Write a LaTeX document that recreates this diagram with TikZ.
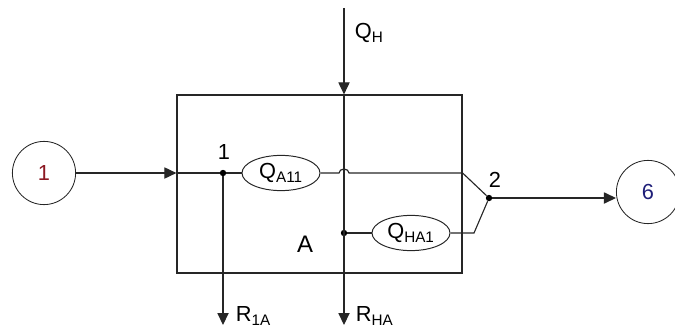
\documentclass[tikz,border=0pt]{standalone}
\usepackage{fontspec}
\setmainfont{Liberation Sans}
\usepackage{xcolor}
\usetikzlibrary{shapes.geometric,arrows.meta,positioning,calc}
\definecolor{srcred}{RGB}{140,25,35}
\definecolor{sinkblue}{RGB}{30,30,120}

\begin{document}
\begin{tikzpicture}[
  x=0.025cm, y=-0.025cm,
  every node/.style={font=\fontsize{15.5}{18}\selectfont},
  stream/.style={circle, draw=black!85, line width=0.6pt, minimum size=1.58cm,
                 inner sep=0pt},
  flow/.style={ellipse, draw=black!85, line width=0.7pt, minimum width=1.95cm,
               minimum height=0.88cm, inner sep=0pt},
  unit/.style={rectangle, draw=black!85, line width=0.8pt, minimum width=7.125cm,
               minimum height=4.45cm, inner sep=0pt},
  dot/.style={circle, fill=black, inner sep=0pt, minimum size=0.16cm},
  ln/.style={line width=0.8pt, draw=black!85},
  ar/.style={ln, -{Triangle[length=3mm, width=2.8mm]}}
]
\useasboundingbox (0,0) rectangle (675,328);
\node[unit] (blk) at (319.5,184) {};
\node[stream, text=srcred] (in1) at (44,173) {1};
\node[stream, text=sinkblue] (out6) at (648,192) {6};
\node[dot] (j1) at (223,173) {};
\node[dot] (jh) at (344,233) {};
\node[dot] (j2) at (489,198) {};
\node (lj1) at (224,152) {1};
\node (lj2) at (495,180) {2};
\node[flow] (qa) at (281,173) {Q\textsubscript{A11}};
\node[flow] (qha) at (411,233) {Q\textsubscript{HA1}};
\coordinate (qtop) at (344,8);
\coordinate (r1) at (223,325);
\coordinate (rh) at (344,325);
\coordinate (kink) at (474,233);
\node[anchor=west] (lqh) at (350,33) {Q\textsubscript{H}};
\node[anchor=west] (lr1) at (231,316) {R\textsubscript{1A}};
\node[anchor=west] (lrh) at (351,316) {R\textsubscript{HA}};
\node[font=\fontsize{17}{20}\selectfont] (la) at (305,244) {A};

\draw[ar] (in1.east) -- (in1 -| blk.west);
\draw[ln] (in1 -| blk.west) -- (j1) -- (qa);
\draw[ar] (j1) -- (r1);
\draw[ar] (qtop) -- (qtop |- blk.north);
\draw[ar] (qtop |- blk.north) -- (rh);
% jump over the Q_H line
\draw[ln] (qa.east) -- ($(qtop |- qa)+(-5,0)$)
      arc[start angle=180, end angle=360, x radius=5, y radius=4]
      -- (qa -| blk.east) -- (j2);
\draw[ln] (jh) -- (qha);
\draw[ln] (qha) -- (kink) -- (j2);
\draw[ar] (j2) -- (j2 -| out6.west);
\end{tikzpicture}
\end{document}
